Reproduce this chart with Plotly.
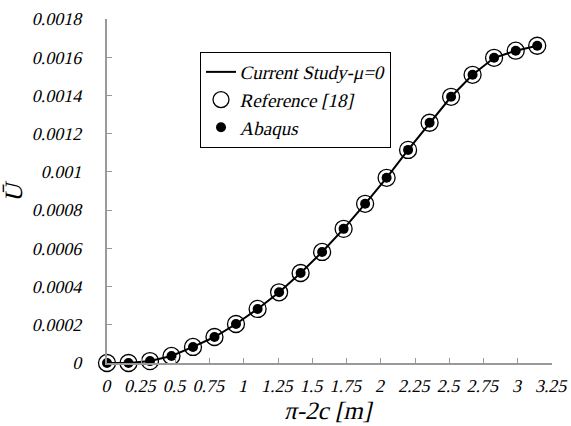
import plotly.graph_objects as go

x_vals = [0, 0.157, 0.314, 0.471, 0.628, 0.785, 0.942, 1.100, 1.257, 1.414, 1.571,
          1.728, 1.885, 2.042, 2.199, 2.356, 2.513, 2.670, 2.827, 2.985, 3.142]
u_current = [0, 0, 0.00001, 0.000037, 0.000084, 0.000136, 0.000204, 0.000283, 0.00037,
             0.000471, 0.000581, 0.000702, 0.000833, 0.000969, 0.001115, 0.001257,
             0.001393, 0.001508, 0.001597, 0.001634, 0.00166]
u_reference = list(u_current)
u_abaqus = list(u_current)

x_ticks = [0, 0.25, 0.5, 0.75, 1, 1.25, 1.5, 1.75, 2, 2.25, 2.5, 2.75, 3, 3.25]
x_ticktext = ["0", "0.25", "0.5", "0.75", "1", "1.25", "1.5", "1.75", "2", "2.25",
              "2.5", "2.75", "3", "3.25"]
y_ticks = [0, 0.0002, 0.0004, 0.0006, 0.0008, 0.001, 0.0012, 0.0014, 0.0016, 0.0018]
y_ticktext = ["0", "0.0002", "0.0004", "0.0006", "0.0008", "0.001", "0.0012",
              "0.0014", "0.0016", "0.0018"]

FONT = "Times New Roman"

fig = go.Figure()
fig.add_trace(go.Scatter(x=x_vals, y=u_current, mode="lines",
                         line=dict(color="black", width=2), cliponaxis=False,
                         name="Current Study-\u03bc=0"))
fig.add_trace(go.Scatter(x=x_vals, y=u_reference, mode="markers", cliponaxis=False,
                         marker=dict(symbol="circle-open", size=17,
                                     color="black", line=dict(width=1.3)),
                         name="Reference [18]"))
fig.add_trace(go.Scatter(x=x_vals, y=u_abaqus, mode="markers", cliponaxis=False,
                         marker=dict(symbol="circle", size=10, color="black"),
                         name="Abaqus"))

fig.update_layout(
    width=571, height=426,
    margin=dict(l=107, r=19, t=19, b=63),
    paper_bgcolor="white", plot_bgcolor="white",
    font=dict(family=FONT, color="black"),
    showlegend=True,
    legend=dict(x=0.209, y=0.904, xanchor="left", yanchor="top",
                bgcolor="white", bordercolor="black", borderwidth=1,
                font=dict(family=FONT, size=19, color="black"),
                tracegroupgap=0, itemwidth=30),
)
fig.update_xaxes(range=[0, 3.25], tickvals=x_ticks, ticktext=x_ticktext,
                 automargin=False,
                 showgrid=False, zeroline=False, showline=True,
                 linecolor="#999999", linewidth=1.5,
                 ticks="inside", ticklen=5, tickcolor="#999999",
                 ticklabelstandoff=6,
                 tickfont=dict(family=FONT, size=18),
                 title=dict(text="\u03c0-2c [m]",
                            font=dict(family=FONT, size=25),
                            standoff=6))
fig.update_yaxes(range=[0, 0.0018], tickvals=y_ticks, ticktext=y_ticktext,
                 automargin=False,
                 showgrid=False, zeroline=False, showline=True,
                 linecolor="#999999", linewidth=1.5,
                 ticks="inside", ticklen=5, tickcolor="#999999",
                 ticklabelstandoff=19,
                 tickfont=dict(family=FONT, size=18),
                 title=dict(text="\u016a",
                            font=dict(family=FONT, size=25),
                            standoff=10))

# No serif italic face is installed, so slant the serif text to mimic Times italic.
slant_js = """
try {
  var gd = document.getElementById('{plot_id}');
  gd.querySelectorAll('text').forEach(function(t){
    if (t.getAttribute('data-slanted')) return;
    var b = t.getBBox();
    if (!b.width) return;
    var cx = b.x + b.width / 2, cy = b.y + b.height / 2;
    var old = t.getAttribute('transform') || '';
    t.setAttribute('transform', old + ' translate(' + cx + ',' + cy + ') skewX(-13) translate(' + (-cx) + ',' + (-cy) + ')');
    t.setAttribute('data-slanted', '1');
  });
} catch (e) {}
"""

fig.write_html("out.html", post_script=slant_js)
